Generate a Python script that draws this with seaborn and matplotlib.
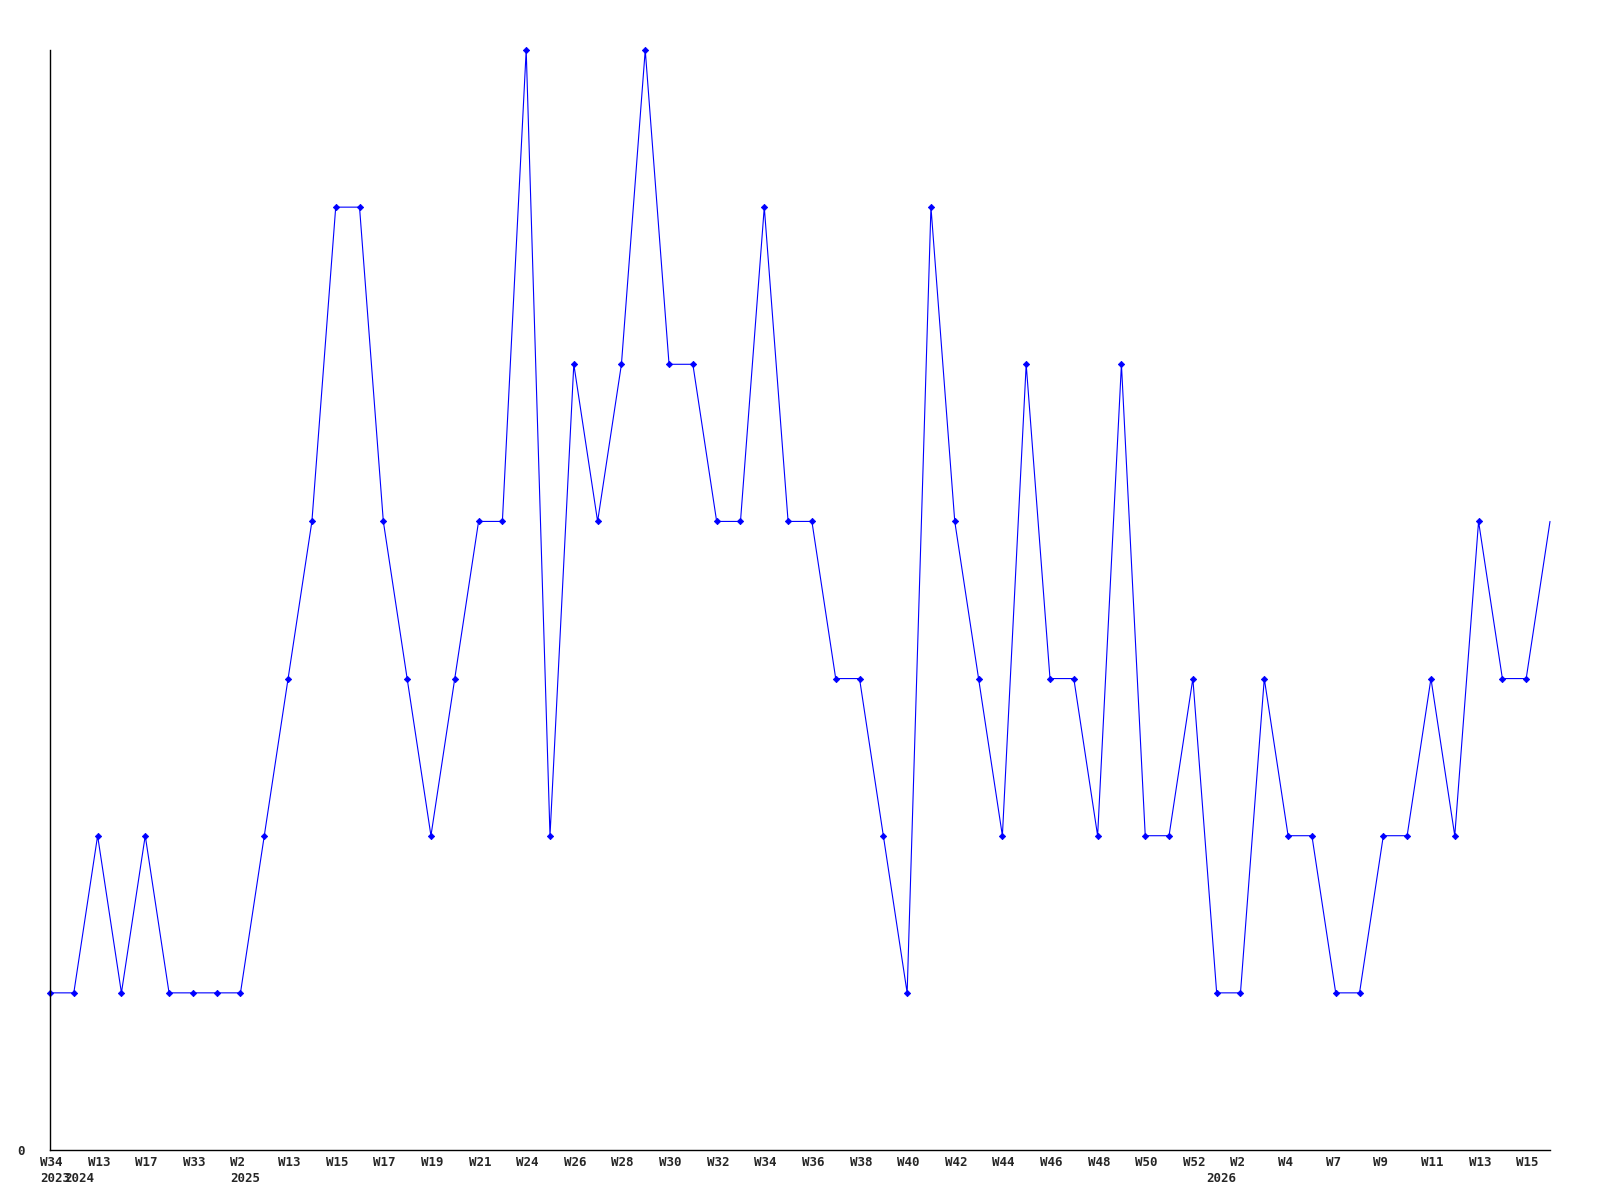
import matplotlib
matplotlib.use("Agg")
import matplotlib.pyplot as plt
import matplotlib.transforms as mtransforms
import numpy as np
import seaborn as sns

# weekly counts, one point per week (equally spaced)
counts = [1, 1, 2, 1, 2, 1, 1, 1, 1, 2, 3, 4, 6, 6, 4, 3, 2, 3, 4, 4,
          7, 2, 5, 4, 5, 7, 5, 5, 4, 4, 6, 4, 4, 3, 3, 2, 1, 6, 4, 3,
          2, 5, 3, 3, 2, 5, 2, 2, 3, 1, 1, 3, 2, 2, 1, 1, 2, 2, 3, 2,
          4, 3, 3, 4]
# labels shown on every second point
week_labels = ["W34", "W13", "W17", "W33", "W2", "W13", "W15", "W17", "W19", "W21",
               "W24", "W26", "W28", "W30", "W32", "W34", "W36", "W38", "W40", "W42",
               "W44", "W46", "W48", "W50", "W52", "W2", "W4", "W7", "W9", "W11",
               "W13", "W15"]
# year label and index of the first point in that year
year_names = ["2023", "2024", "2025", "2026"]
year_starts = [0, 1, 8, 49]

sns.set_style("white")
plt.rcParams["font.family"] = ["DejaVu Sans Mono", "DejaVu Sans"]

fig = plt.figure(figsize=(16, 12), dpi=100)
ax = fig.add_axes([50 / 1600, 50 / 1200, 1500 / 1600, 1100 / 1200])

x = np.arange(len(counts))
sns.lineplot(x=x, y=counts, ax=ax, color="#0000ff", linewidth=0.8,
             marker="D", markersize=3.2, markeredgewidth=0.6,
             markerfacecolor="#0000ff", markeredgecolor="#0000ff",
             markevery=list(range(len(counts) - 1)), clip_on=False)

ax.set_xlim(0, len(counts) - 1)
ax.set_ylim(0, 7)

for side in ["top", "right"]:
    ax.spines[side].set_visible(False)
for side in ["left", "bottom"]:
    ax.spines[side].set_color("black")
    ax.spines[side].set_linewidth(1.0)

ax.set_yticks([0])
ax.set_yticklabels(["0"], fontsize=9, fontweight="bold")
ax.tick_params(axis="y", length=0, pad=18)

ax.set_xticks(x[::2])
ax.set_xticklabels(week_labels, fontsize=9, fontweight="bold", ha="left")
ax.tick_params(axis="x", length=0, pad=4)
shift = mtransforms.ScaledTranslation(-10 / 100, 0, fig.dpi_scale_trans)
for lbl in ax.get_xticklabels():
    lbl.set_transform(lbl.get_transform() + shift)

for name, idx in zip(year_names, year_starts):
    ax.annotate(name, xy=(idx, 0), xycoords=("data", "axes fraction"),
                xytext=(-7.2, -16), textcoords="offset points",
                ha="left", va="top", fontsize=9, fontweight="bold",
                annotation_clip=False)

ax.set_xlabel("")
ax.set_ylabel("")

fig.savefig("out.png", dpi=100)
